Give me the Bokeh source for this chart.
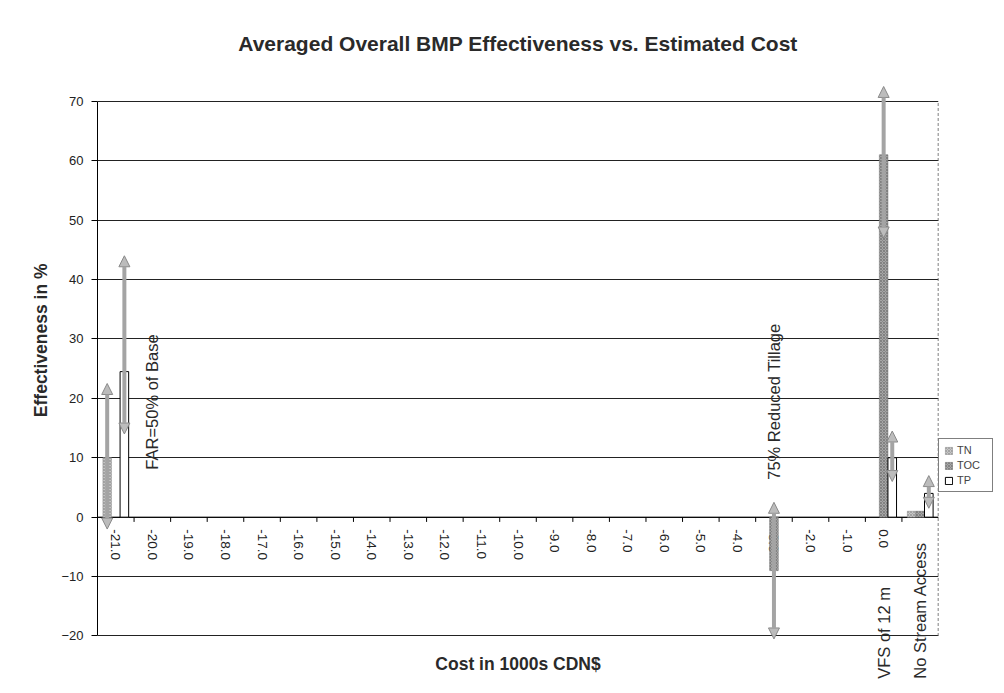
from math import pi
from bokeh.plotting import figure
from bokeh.models import (Range1d, FixedTicker, ColumnDataSource, Arrow, NormalHead,
                          Legend, LegendItem, LabelSet, Label, Title)
from bokeh.core.properties import value
from bokeh.embed import file_html
from bokeh.resources import INLINE

nan = float("nan")

# ---------------- data ----------------
categories = ["-21.0", "-20.0", "-19.0", "-18.0", "-17.0", "-16.0", "-15.0", "-14.0",
              "-13.0", "-12.0", "-11.0", "-10.0", "-9.0", "-8.0", "-7.0", "-6.0",
              "-5.0", "-4.0", "-3.0", "-2.0", "-1.0", "0.0", "No Stream Access"]
tick_labels = ["-21.0", "-20.0", "-19.0", "-18.0", "-17.0", "-16.0", "-15.0", "-14.0",
               "-13.0", "-12.0", "-11.0", "-10.0", "-9.0", "-8.0", "-7.0", "-6.0",
               "-5.0", "-4.0", "-3.0", "-2.0", "-1.0", "0.0", ""]
tn  = [10.0, nan, nan, nan, nan, nan, nan, nan, nan, nan, nan, nan, nan, nan, nan, nan,
       nan, nan, nan, nan, nan, nan, 1.0]
toc = [nan, nan, nan, nan, nan, nan, nan, nan, nan, nan, nan, nan, nan, nan, nan, nan,
       nan, nan, -9.0, nan, nan, 61.0, 1.0]
tp  = [24.5, nan, nan, nan, nan, nan, nan, nan, nan, nan, nan, nan, nan, nan, nan, nan,
       nan, nan, nan, nan, nan, 10.0, 4.0]

# error ranges (series, category index, low, high)
err_series = ["TN", "TP", "TOC", "TOC", "TP", "TP"]
err_cat    = [0, 0, 18, 21, 21, 22]
err_low    = [-2.0, 14.0, -20.5, 47.0, 6.0, 1.5]
err_high   = [22.5, 44.0, 2.5, 72.5, 14.5, 7.0]

# BMP annotations
note_text = ["FAR=50% of Base", "75% Reduced Tillage", "VFS of 12 m", "No Stream Access"]
note_cat  = [1, 18, 21, 22]
note_y    = [8.0, 6.3, -27.2, -27.2]

y_ticks = [-20, -10, 0, 10, 20, 30, 40, 50, 60, 70]
y_axis_min, y_axis_max = -20, 70

FONT = "Liberation Sans"
TXT = "#2a2a2a"

# ---------------- layout helpers ----------------
n = len(categories)
bar_w = 0.235
offsets = {"TN": -bar_w, "TOC": 0.0, "TP": bar_w}
centers = [i + 0.5 for i in range(n)]

p = figure(frame_width=841, frame_height=600, output_backend="svg", toolbar_location=None,
           x_range=Range1d(0, n), y_range=Range1d(-28, 73),
           min_border_left=97, min_border_top=83, min_border_bottom=5,
           min_border_right=62)
p.styles = {"outline": "1px dashed #777777", "outline-offset": "-2px"}

p.title.text = "Averaged Overall BMP Effectiveness vs. Estimated Cost"
p.title.align = "center"
p.title.text_font = FONT
p.title.text_font_size = "21px"
p.title.text_font_style = "bold"
p.title.text_color = TXT
p.title.standoff = 57

p.outline_line_color = None

# axes
p.xaxis.visible = False

p.yaxis.ticker = FixedTicker(ticks=y_ticks)
p.yaxis.bounds = (y_axis_min, y_axis_max)
p.yaxis.axis_line_color = "black"
p.yaxis.major_tick_out = 6
p.yaxis.major_tick_in = 0
p.yaxis.minor_tick_line_color = None
p.yaxis.major_label_text_font = FONT
p.yaxis.major_label_text_font_size = "13px"
p.yaxis.major_label_text_color = "#222222"
p.yaxis.major_label_standoff = 8

p.add_layout(Title(text="Effectiveness in %", align="right", offset=180,
                   text_font=FONT, text_font_size="17.5px", text_font_style="bold",
                   text_color=TXT, standoff=16), "left")

p.xgrid.grid_line_color = None
p.ygrid.ticker = FixedTicker(ticks=y_ticks)
p.ygrid.grid_line_color = "#222222"
p.ygrid.grid_line_width = 1

# right border of the plot area
p.line(x=[n, n], y=[y_axis_min, y_axis_max], line_color="#555555", line_width=1.5,
       line_dash="3 2")

# category tick labels along the zero line (under the bars)
tick_src = ColumnDataSource(dict(x=centers, y=[0] * n, t=tick_labels))
p.add_layout(LabelSet(x="x", y="y", text="t", source=tick_src, angle=-pi / 2,
                      text_align="left", text_baseline="middle", y_offset=-12,
                      text_font=value(FONT), text_font_size="13.5px",
                      text_color="#222222", level="underlay"))

# zero line (x axis drawn at y = 0)
p.line(x=[0, n], y=[0, 0], line_color="black", line_width=1)
bounds = [float(i) for i in range(1, n)]
p.segment(x0=bounds, y0=[0] * len(bounds), x1=bounds, y1=[-0.8] * len(bounds),
          line_color="black", line_width=1)

# bars
def bar(series, vals, **style):
    xs = [c + offsets[series] for c in centers]
    return p.vbar(x=xs, top=vals, bottom=0, width=bar_w, **style)

r_tn = bar("TN", tn, fill_color="#c6c6c6", line_color="#8a8a8a", line_width=0.5,
           hatch_pattern="diagonal_cross", hatch_color="#8c8c8c", hatch_scale=3,
           hatch_weight=0.6)
r_toc = bar("TOC", toc, fill_color="#a6a6a6", line_color="#6e6e6e", line_width=0.5,
            hatch_pattern="diagonal_cross", hatch_color="#6a6a6a", hatch_scale=3,
            hatch_weight=0.6)
r_tp = bar("TP", tp, fill_color="white", line_color="black", line_width=1)

# error arrows
err_x = [centers[c] + offsets[s] for c, s in zip(err_cat, err_series)]
err_src = ColumnDataSource(dict(x=err_x, lo=err_low, hi=err_high))
p.add_layout(Arrow(x_start="x", y_start="lo", x_end="x", y_end="hi", source=err_src,
                   line_color="#a4a4a4", line_width=4,
                   start=NormalHead(size=11, fill_color="#bcbcbc", line_color="#8a8a8a",
                                    line_width=1),
                   end=NormalHead(size=11, fill_color="#bcbcbc", line_color="#8a8a8a",
                                  line_width=1)))

# BMP annotations
for t, c, y in zip(note_text, note_cat, note_y):
    p.add_layout(Label(x=centers[c], y=y, text=t, angle=pi / 2,
                       text_align="left", text_baseline="middle",
                       text_font=FONT, text_font_size="16.5px", text_color=TXT))

# x axis title (drawn below the -20 line)
p.add_layout(Label(x=n / 2, y=-24.8, text="Cost in 1000s CDN$", text_align="center",
                   text_baseline="middle", text_font=FONT, text_font_size="17.5px",
                   text_font_style="bold", text_color=TXT))

legend = Legend(items=[LegendItem(label="TN", renderers=[r_tn]),
                       LegendItem(label="TOC", renderers=[r_toc]),
                       LegendItem(label="TP", renderers=[r_tp])],
                location=(0, 191), border_line_color="black", border_line_width=1,
                label_text_font=FONT, label_text_font_size="11px",
                glyph_height=9, glyph_width=9, spacing=3, padding=5, margin=2,
                label_standoff=4, label_height=12, label_width=30)
p.add_layout(legend, "right")

open("out.html", "w").write(file_html(p, INLINE))
